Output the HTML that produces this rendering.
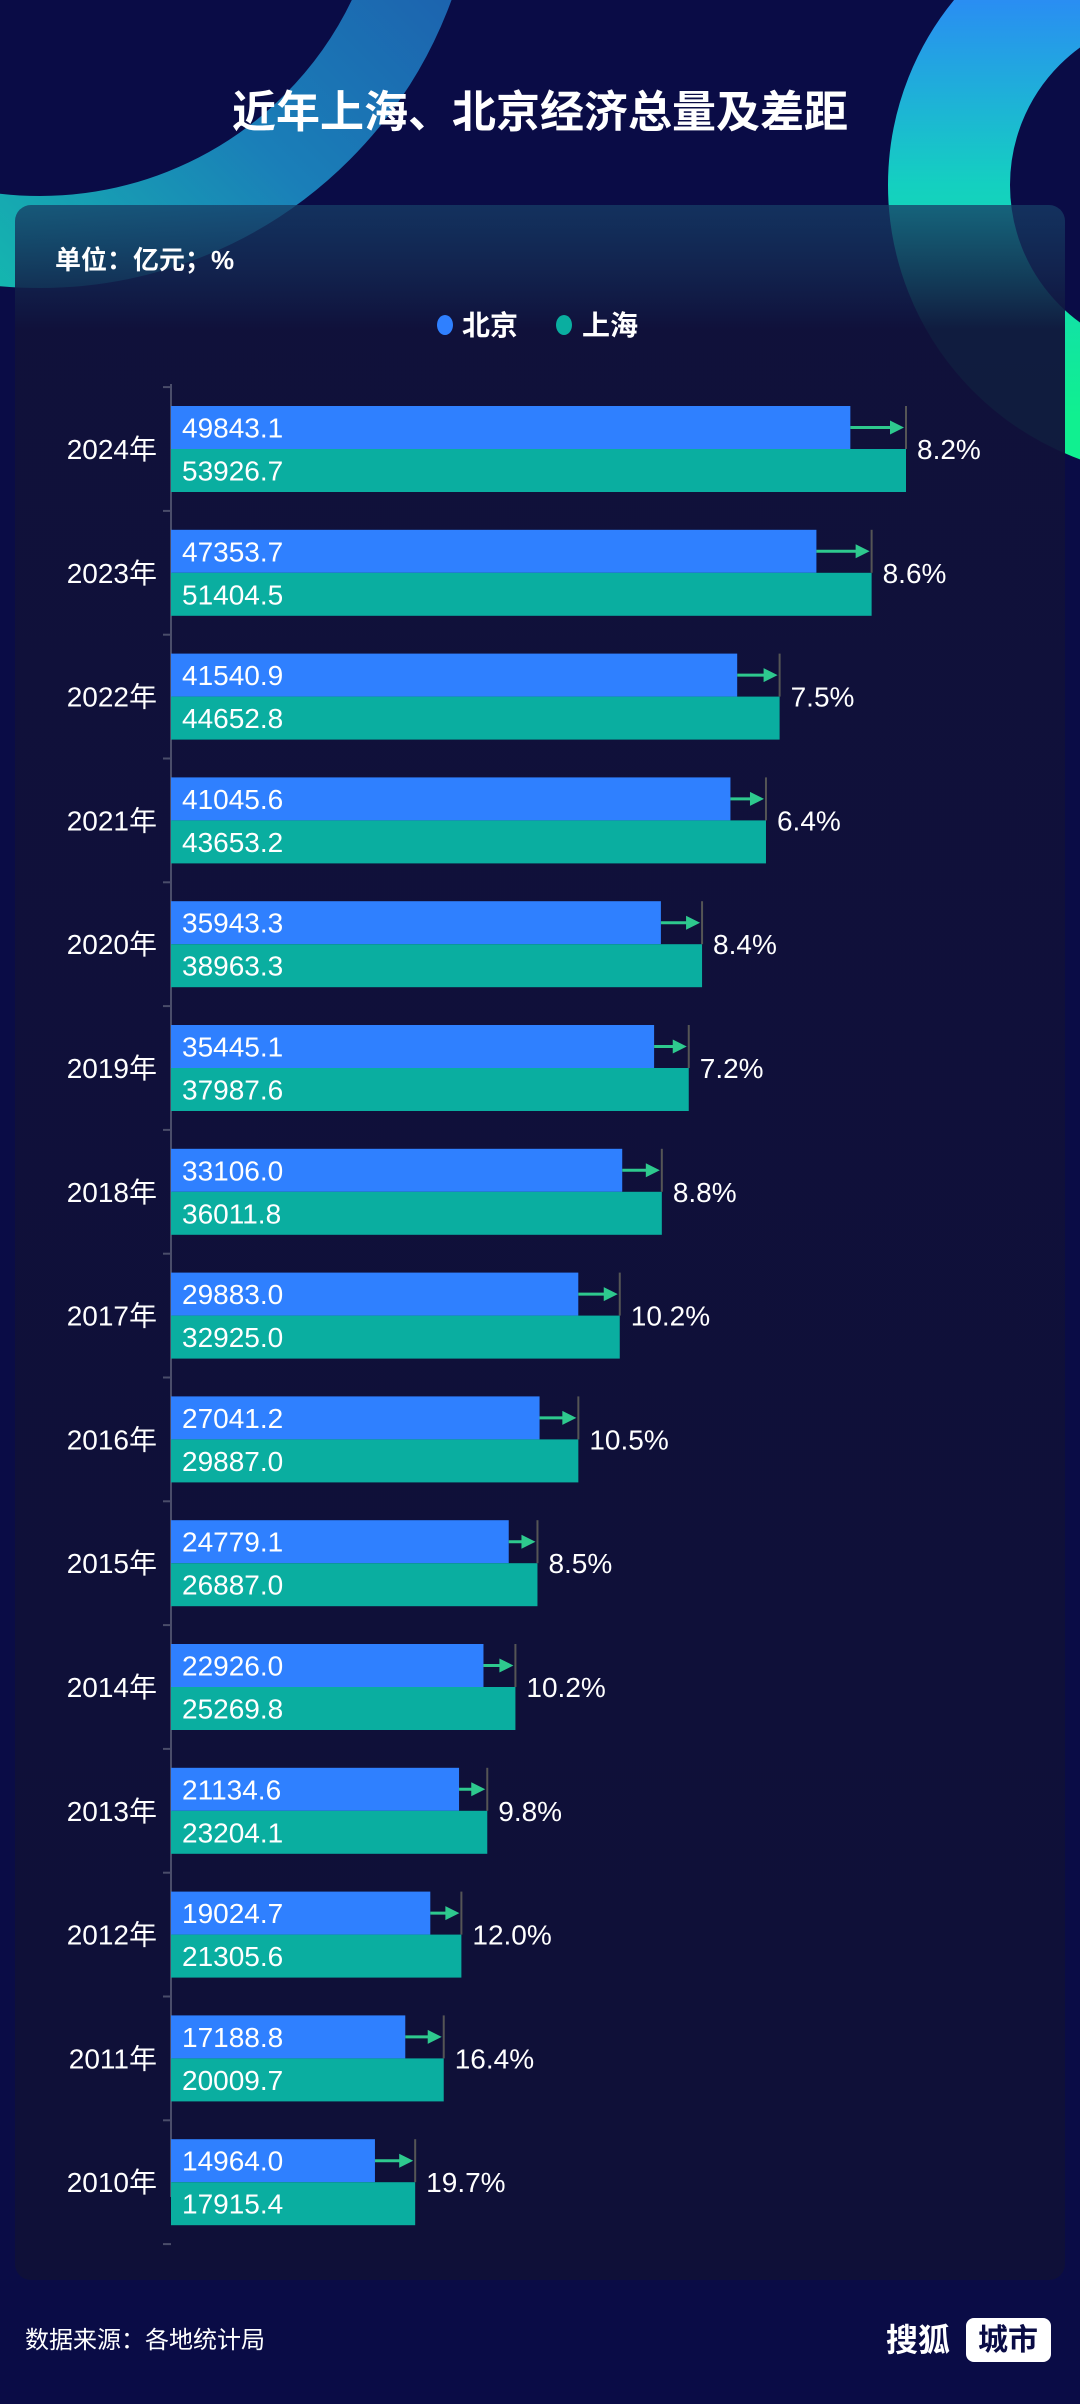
<!DOCTYPE html>
<html><head><meta charset="utf-8">
<style>
html,body{margin:0;padding:0;}
body{width:1080px;height:2404px;background:#0a0c46;position:relative;overflow:hidden;font-family:"Liberation Sans","Noto Sans CJK SC",sans-serif;color:#fff;}
svg{position:absolute;left:0;top:0;}
</style></head>
<body>
<svg id="chart" width="1080" height="2404" viewBox="0 0 1080 2404">
<defs>
<linearGradient id="gl" x1="0" y1="1" x2="1" y2="0">
<stop offset="0" stop-color="#10e0a8"/><stop offset="0.45" stop-color="#1a7fb8"/><stop offset="1" stop-color="#1f3aa0"/>
</linearGradient>
<linearGradient id="gr" x1="0" y1="0" x2="0" y2="1">
<stop offset="0" stop-color="#2f7dff"/><stop offset="0.5" stop-color="#14d0c0"/><stop offset="1" stop-color="#10f090"/>
</linearGradient>
<linearGradient id="gp" x1="0" y1="0" x2="0" y2="1">
<stop offset="0" stop-color="#163e66" stop-opacity="0.75"/><stop offset="0.06" stop-color="#10113a" stop-opacity="0.95"/><stop offset="1" stop-color="#0f1038" stop-opacity="1"/>
</linearGradient>
</defs>
<g>
<circle cx="40" cy="-150" r="392" fill="none" stroke="url(#gl)" stroke-width="92"/>
</g>
<g>
<circle cx="1180" cy="185" r="231" fill="none" stroke="url(#gr)" stroke-width="122"/>
</g>
<text x="540" y="127" text-anchor="middle" font-size="44" font-weight="bold" fill="#fff">近年上海、北京经济总量及差距</text>
<rect x="15" y="205" width="1050" height="2075" rx="16" fill="url(#gp)"/>
<text x="55" y="269" font-size="26" font-weight="bold" fill="#fff">单位：亿元；%</text>
<g>
<ellipse cx="445" cy="325" rx="8" ry="10" fill="#2f80ff"/>
<text x="462" y="335" font-size="28" font-weight="bold" fill="#fff">北京</text>
<ellipse cx="564" cy="325" rx="8" ry="10" fill="#0aaea0"/>
<text x="582" y="335" font-size="28" font-weight="bold" fill="#fff">上海</text>
</g>
<g id="plot"></g>
<text x="25" y="2348" font-size="24" fill="#fff">数据来源：各地统计局</text>
<g>
<text x="886" y="2351" font-size="32" font-weight="bold" fill="#fff">搜狐</text>
<rect x="966" y="2318" width="85" height="44" rx="8" fill="#fff"/>
<text x="1008" y="2350" text-anchor="middle" font-size="30" font-weight="bold" fill="#0a0c46">城市</text>
</g>
</svg>
<script>
const years = ["2024年","2023年","2022年","2021年","2020年","2019年","2018年","2017年","2016年","2015年","2014年","2013年","2012年","2011年","2010年"];
const beijing = [49843.1,47353.7,41540.9,41045.6,35943.3,35445.1,33106.0,29883.0,27041.2,24779.1,22926.0,21134.6,19024.7,17188.8,14964.0];
const shanghai = [53926.7,51404.5,44652.8,43653.2,38963.3,37987.6,36011.8,32925.0,29887.0,26887.0,25269.8,23204.1,21305.6,20009.7,17915.4];
const gaps = ["8.2%","8.6%","7.5%","6.4%","8.4%","7.2%","8.8%","10.2%","10.5%","8.5%","10.2%","9.8%","12.0%","16.4%","19.7%"];

const NS = "http://www.w3.org/2000/svg";
const plot = document.getElementById("plot");
const X0 = 171, K = 735 / 53926.7;
function xScale(v){ return X0 + v * K; }
const ROW0 = 449, PITCH = 123.8, BH = 43;
function yCenter(i){ return ROW0 + i * PITCH; }
function mk(tag, attrs){ const e = document.createElementNS(NS, tag); for (const k in attrs) e.setAttribute(k, attrs[k]); plot.appendChild(e); return e; }

const axis = mk("line", {x1: X0, y1: 384, x2: X0, y2: 2197, stroke: "#4a4d6a", "stroke-width": 2});


for (let i = 0; i <= years.length; i++) {
  const ty = yCenter(i) - PITCH / 2;
  const t = mk("line", {x1: X0 - 8, y1: ty, x2: X0, y2: ty, stroke: "#4a4d6a", "stroke-width": 2});
  
  
}
years.forEach((yr, i) => {
  const cy = yCenter(i);
  const lab = mk("text", {x: 157, y: cy + 10, "text-anchor": "end", "font-size": 28, fill: "#fff"});
  lab.textContent = yr;
  
  

  const xb = xScale(beijing[i]), xs = xScale(shanghai[i]);
  const b = mk("rect", {x: X0, y: cy - BH, width: xb - X0, height: BH, fill: "#2f80ff"});
  
  
  const s = mk("rect", {x: X0, y: cy, width: xs - X0, height: BH, fill: "#0aaea0"});
  
  

  const bv = mk("text", {x: 182, y: cy - BH / 2 + 10, "font-size": 28, fill: "#fff"});
  bv.textContent = beijing[i].toFixed(1);
  
  
  const sv = mk("text", {x: 182, y: cy + BH / 2 + 10, "font-size": 28, fill: "#fff"});
  sv.textContent = shanghai[i].toFixed(1);
  
  

  const vl = mk("line", {x1: xs, y1: cy - BH, x2: xs, y2: cy, stroke: "#555", "stroke-width": 2});
  
  
  const ay = cy - BH / 2;
  const al = mk("line", {x1: xb, y1: ay, x2: xs - 12, y2: ay, stroke: "#2ec98e", "stroke-width": 3});
  
  
  const ah = mk("polygon", {points: `${xs - 2},${ay} ${xs - 16},${ay - 7} ${xs - 16},${ay + 7}`, fill: "#2ec98e"});
  
  

  const pl = mk("text", {x: xs + 11, y: cy + 10, "font-size": 28, fill: "#fff"});
  pl.textContent = gaps[i];
  
  
});
</script>
</body></html>
